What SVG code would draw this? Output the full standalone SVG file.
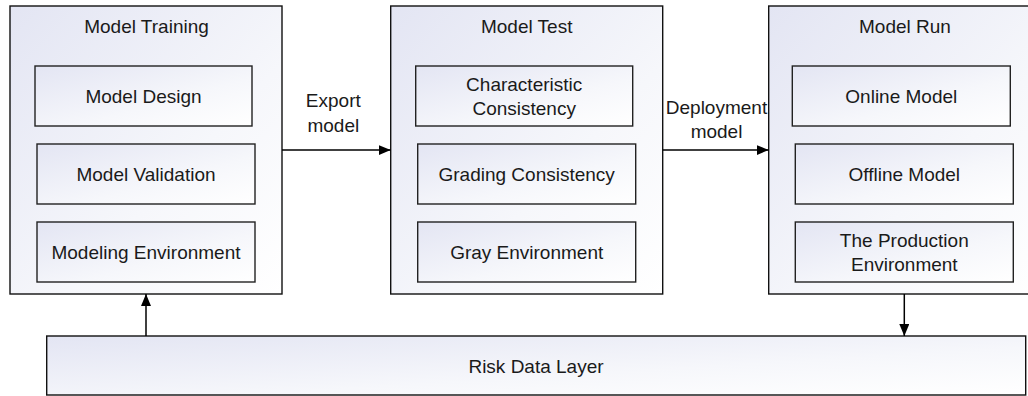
<svg xmlns="http://www.w3.org/2000/svg" width="1028" height="396" viewBox="0 0 1028 396">
  <defs>
    <linearGradient id="boxFill" x1="0" y1="0" x2="1" y2="1">
      <stop offset="0" stop-color="#e3e5f3"/>
      <stop offset="0.6" stop-color="#f6f7fb"/>
      <stop offset="1" stop-color="#ffffff"/>
    </linearGradient>
    <marker id="arrow" viewBox="0 0 12 10" refX="12" refY="5" markerWidth="12" markerHeight="10" markerUnits="userSpaceOnUse" orient="auto">
      <path d="M0,0 L12,5 L0,10 Z" fill="#000"/>
    </marker>
  </defs>
  <style>
    .outer { fill: url(#boxFill); stroke: #111; stroke-width: 1.4; }
    .inner { fill: url(#boxFill); stroke: #222; stroke-width: 1.4; }
    .label { font-family: "Liberation Sans", Arial, sans-serif; font-size: 19px; fill: #1a1a1a; text-anchor: middle; }
    .edge { fill: none; stroke: #000; stroke-width: 1.5; }
  </style>

  <rect width="1028" height="396" fill="#ffffff"/>

  <!-- Training stage -->
  <g id="model-training">
    <rect class="outer" x="10" y="6" width="272" height="288"/>
    <text class="label" x="146.5" y="33">Model Training</text>
  </g>
  <g id="model-design">
    <rect class="inner" x="35" y="66" width="217" height="60"/>
    <text class="label" x="143.5" y="103">Model Design</text>
  </g>
  <g id="model-validation">
    <rect class="inner" x="37" y="144" width="218" height="60"/>
    <text class="label" x="146" y="181">Model Validation</text>
  </g>
  <g id="modeling-environment">
    <rect class="inner" x="37" y="222" width="218" height="60"/>
    <text class="label" x="146" y="259">Modeling Environment</text>
  </g>

  <!-- Test stage -->
  <g id="model-test">
    <rect class="outer" x="390.7" y="6" width="272" height="288"/>
    <text class="label" x="526.7" y="33">Model Test</text>
  </g>
  <g id="characteristic-consistency">
    <rect class="inner" x="415.7" y="66" width="217" height="60"/>
    <text class="label" x="524.2" y="90.5">Characteristic</text>
    <text class="label" x="524.2" y="115">Consistency</text>
  </g>
  <g id="grading-consistency">
    <rect class="inner" x="417.7" y="144" width="218" height="60"/>
    <text class="label" x="526.7" y="181">Grading Consistency</text>
  </g>
  <g id="gray-environment">
    <rect class="inner" x="417.7" y="222" width="218" height="60"/>
    <text class="label" x="526.7" y="259">Gray Environment</text>
  </g>

  <!-- Run stage -->
  <g id="model-run">
    <rect class="outer" x="768.7" y="6" width="272" height="288"/>
    <text class="label" x="905" y="33">Model Run</text>
  </g>
  <g id="online-model">
    <rect class="inner" x="792.3" y="66" width="218" height="60"/>
    <text class="label" x="901.3" y="103">Online Model</text>
  </g>
  <g id="offline-model">
    <rect class="inner" x="795.3" y="144" width="218" height="60"/>
    <text class="label" x="904.3" y="181">Offline Model</text>
  </g>
  <g id="production-environment">
    <rect class="inner" x="795.3" y="222" width="218" height="60"/>
    <text class="label" x="904.3" y="246.5">The Production</text>
    <text class="label" x="904.3" y="271">Environment</text>
  </g>

  <!-- Shared data layer -->
  <g id="risk-data-layer">
    <rect class="outer" x="46.7" y="336" width="979" height="59"/>
    <text class="label" x="536" y="372.5">Risk Data Layer</text>
  </g>

  <!-- Connectors -->
  <g id="connectors">
    <line class="edge" x1="282" y1="150" x2="390.7" y2="150" marker-end="url(#arrow)"/>
    <text class="label" x="333.3" y="106.5">Export</text>
    <text class="label" x="333.3" y="131.5">model</text>
    <line class="edge" x1="662.7" y1="150" x2="768.7" y2="150" marker-end="url(#arrow)"/>
    <text class="label" x="716.5" y="114">Deployment</text>
    <text class="label" x="716.5" y="138">model</text>
    <line class="edge" x1="904.3" y1="294" x2="904.3" y2="336" marker-end="url(#arrow)"/>
    <line class="edge" x1="146" y1="336" x2="146" y2="294" marker-end="url(#arrow)"/>
  </g>
</svg>
